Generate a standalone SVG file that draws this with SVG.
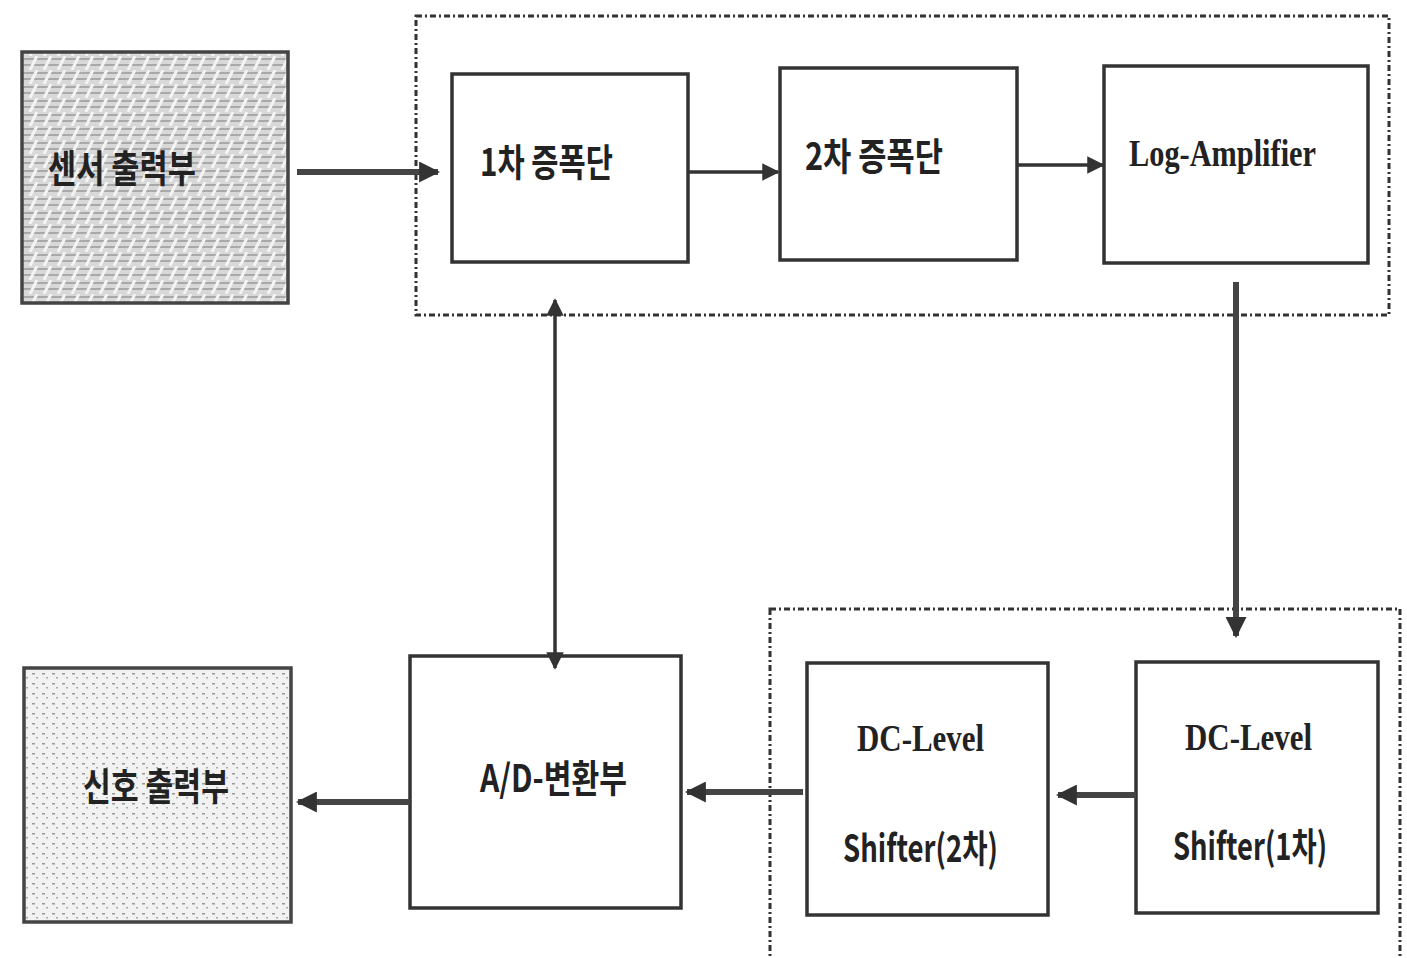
<svg xmlns="http://www.w3.org/2000/svg" width="1407" height="958" viewBox="0 0 1407 958">
<style>
.box{fill:#fff;stroke:#333;stroke-width:3.5}
.grp{fill:none;stroke:#333;stroke-width:3;stroke-dasharray:6 3 2 3}
.kr{font-family:"Noto Sans CJK KR","Noto Sans",sans-serif;font-weight:700;font-size:38px;fill:#222}
.en{font-family:"Liberation Serif","DejaVu Serif",serif;font-weight:700;font-size:38px;fill:#222}
.thick{stroke:#444;stroke-width:6;fill:none}
.thin{stroke:#333;stroke-width:3.5;fill:none}
</style>
<defs>
<marker id="ah" viewBox="0 0 10 10" refX="9" refY="5" markerWidth="3.5" markerHeight="3.5" orient="auto-start-reverse" markerUnits="strokeWidth">
<path d="M0,0 L10,5 L0,10 z" fill="#333"/>
</marker>
<marker id="ah2" viewBox="0 0 10 10" refX="9" refY="5" markerWidth="5" markerHeight="5" orient="auto-start-reverse" markerUnits="strokeWidth">
<path d="M0,0 L10,5 L0,10 z" fill="#333"/>
</marker>
<pattern id="tex1" width="14" height="14" patternUnits="userSpaceOnUse">
<rect width="14" height="14" fill="#d8d8d8"/>
<path d="M0,3 H14 M0,9 H14" stroke="#9a9a9a" stroke-width="1.5"/>
<path d="M2,14 L9,0" stroke="#f4f4f4" stroke-width="3"/>
</pattern>
<pattern id="tex2" width="10" height="10" patternUnits="userSpaceOnUse">
<rect width="10" height="10" fill="#f2f2f2"/>
<rect x="2" y="3" width="3" height="1.5" fill="#999"/>
<rect x="6" y="7" width="2" height="1.5" fill="#aaa"/>
</pattern>
</defs>

<g id="group-amp"><rect class="grp" x="416" y="16" width="973" height="299"/></g>
<g id="group-shift"><rect class="grp" x="770" y="609" width="630" height="360"/></g>

<g id="sensor">
<rect x="22" y="52" width="266" height="251" fill="url(#tex1)" stroke="#444" stroke-width="3.5"/>
<text class="kr" x="48" y="182" textLength="148" lengthAdjust="spacingAndGlyphs">센서 출력부</text>
</g>
<g id="amp1">
<rect class="box" x="452" y="74" width="236" height="188"/>
<text class="kr" x="480" y="176" textLength="133" lengthAdjust="spacingAndGlyphs">1차 증폭단</text>
</g>
<g id="amp2">
<rect class="box" x="780" y="68" width="237" height="192"/>
<text class="kr" x="805" y="170" textLength="138" lengthAdjust="spacingAndGlyphs">2차 증폭단</text>
</g>
<g id="logamp">
<rect class="box" x="1104" y="66" width="264" height="197"/>
<text class="en" x="1129" y="166" textLength="187" lengthAdjust="spacingAndGlyphs">Log-Amplifier</text>
</g>
<g id="dc1">
<rect class="box" x="1136" y="662" width="242" height="251"/>
<text class="en" x="1185" y="750" textLength="127" lengthAdjust="spacingAndGlyphs">DC-Level</text>
<text class="kr" x="1173" y="860" textLength="154" lengthAdjust="spacingAndGlyphs">Shifter(1차)</text>
</g>
<g id="dc2">
<rect class="box" x="807" y="663" width="241" height="252"/>
<text class="en" x="857" y="751" textLength="127" lengthAdjust="spacingAndGlyphs">DC-Level</text>
<text class="kr" x="843" y="862" textLength="155" lengthAdjust="spacingAndGlyphs">Shifter(2차)</text>
</g>
<g id="adc">
<rect class="box" x="410" y="656" width="271" height="252"/>
<text class="kr" x="480" y="792" textLength="147" lengthAdjust="spacingAndGlyphs">A/D-변환부</text>
</g>
<g id="signal">
<rect x="24" y="668" width="267" height="254" fill="url(#tex2)" stroke="#444" stroke-width="3.5"/>
<text class="kr" x="83" y="800" textLength="146" lengthAdjust="spacingAndGlyphs">신호 출력부</text>
</g>

<g id="connectors">
<line class="thick" x1="297" y1="172" x2="438" y2="172" marker-end="url(#ah)"/>
<line class="thin" x1="689" y1="172" x2="778" y2="172" marker-end="url(#ah2)"/>
<line class="thin" x1="1018" y1="165" x2="1103" y2="165" marker-end="url(#ah2)"/>
<line class="thick" x1="1236" y1="282" x2="1236" y2="636" marker-end="url(#ah)"/>
<line class="thin" x1="555" y1="300" x2="555" y2="668" marker-start="url(#ah2)" marker-end="url(#ah2)"/>
<line class="thick" x1="1136" y1="795" x2="1058" y2="795" marker-end="url(#ah)"/>
<line class="thick" x1="803" y1="792" x2="687" y2="792" marker-end="url(#ah)"/>
<line class="thick" x1="410" y1="802" x2="298" y2="802" marker-end="url(#ah)"/>
</g>
</svg>
